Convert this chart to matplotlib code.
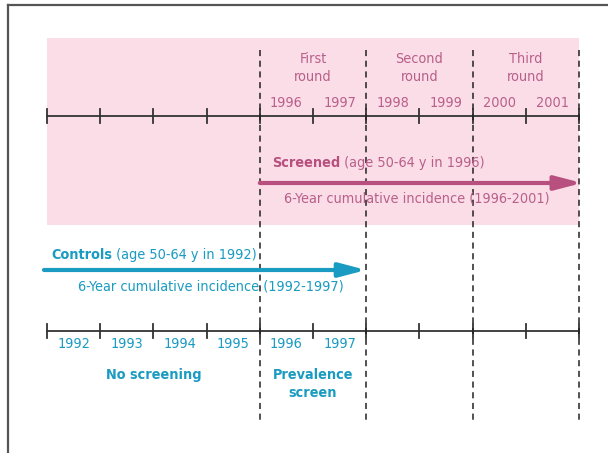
import matplotlib
matplotlib.use("Agg")
import matplotlib.pyplot as plt
from matplotlib import font_manager
from matplotlib.font_manager import FontProperties

# ---- data ----
years = [1992, 1993, 1994, 1995, 1996, 1997, 1998, 1999, 2000, 2001]
top_years = [1996, 1997, 1998, 1999, 2000, 2001]
bottom_years = [1992, 1993, 1994, 1995, 1996, 1997]
round_labels = ["First\nround", "Second\nround", "Third\nround"]
round_starts = [1996, 1998, 2000]
dashed_years = [1996, 1998, 2000, 2002]
screened_period = [1996, 2002]
control_period = [1992, 1998]
phase_labels = ["No screening", "Prevalence\nscreen"]
phase_spans = [[1992, 1996], [1996, 1998]]


def _w(f):
    if isinstance(f.weight, int):
        return f.weight
    return {"normal": 400, "regular": 400, "book": 400, "bold": 700}.get(str(f.weight), 400)


def _rank(f):
    n = (f.fname + " " + f.name)
    if "Semi" in n or "Extra" in n or "Ultra" in n:
        return 1
    return 0


cands = []
for f in font_manager.fontManager.ttflist:
    n = f.fname + " " + f.name
    if ("Condensed" in n or "Narrow" in n) and f.style == "normal":
        cands.append(f)
cands.sort(key=_rank)
reg_file = next((f.fname for f in cands if _w(f) == 400), None)
bold_file = next((f.fname for f in cands if _w(f) == 700 and
                  (reg_file is None or _rank(f) == 0)), None)
if reg_file:
    FP = FontProperties(fname=reg_file)
    FPB = FontProperties(fname=bold_file) if bold_file else FontProperties(fname=reg_file, weight="bold")
else:
    FP = FontProperties(family="Liberation Sans")
    FPB = FontProperties(family="Liberation Sans", weight="bold")

PINK_BG = "#fbdde8"
PINK = "#b8507f"
PINK_TXT = "#b9608a"
TEAL = "#1a9bc1"
AX = "#333333"

fig = plt.figure(figsize=(6.08, 4.53), dpi=100)
ax = fig.add_axes([0, 0, 1, 1])
pxy = 53.2
ax.set_xlim(1992 - 47 / pxy, 1992 + (608 - 47) / pxy)
ax.set_ylim(453, 0)
ax.axis("off")

# size the font so a year label is ~32 px wide, as in the reference
probe_fp = FP.copy(); probe_fp.set_size(10)
probe = ax.text(0, 0, "1996", fontproperties=probe_fp)
r = fig.canvas.get_renderer()
wpx = probe.get_window_extent(r).width
probe.remove()
fs = max(8.5, min(12.0, 10 * 32.5 / wpx))


def txt(x, y, s, color, bold=False, **kw):
    fp = (FPB if bold else FP).copy()
    fp.set_size(fs)
    return ax.text(x, y, s, color=color, fontproperties=fp, **kw)


# frame
ax.plot([1992 - 39 / pxy, 1992 - 39 / pxy], [5, 453], color="#555555", lw=1.6, clip_on=False)
ax.plot([1992 - 39 / pxy, 1992 + 561 / pxy], [5, 5], color="#555555", lw=1.6, clip_on=False)

# pink band
ax.fill_between([years[0], years[-1] + 1], 38, 225, color=PINK_BG, lw=0, zorder=0)

# dashed verticals
for d in dashed_years:
    ax.plot([d, d], [50, 421], color="#222222", lw=1.1, ls=(0, (4, 3)), zorder=3)


def timeline(y):
    ax.plot([years[0], years[-1] + 1], [y, y], color=AX, lw=1.3, zorder=2)
    for t in years + [years[-1] + 1]:
        ax.plot([t, t], [y - 7, y + 7], color=AX, lw=1.3, zorder=2)


timeline(116)
timeline(331)

for yr in top_years:
    txt(yr + 0.5, 103, str(yr), PINK_TXT, ha="center", va="center")
for lab, s in zip(round_labels, round_starts):
    txt(s + 1, 68, lab, PINK_TXT, ha="center", va="center", linespacing=1.3)
for yr in bottom_years:
    txt(yr + 0.5, 344, str(yr), TEAL, ha="center", va="center")
for lab, sp in zip(phase_labels, phase_spans):
    txt((sp[0] + sp[1]) / 2, 375 if "\n" not in lab else 384, lab, TEAL, bold=True,
        ha="center", va="center", linespacing=1.3)

astyle = "-|>,head_length=1.6,head_width=0.42"
fp = FP.copy(); fp.set_size(fs)
# screened arrow
ax.annotate("", xy=(screened_period[1] + 3 / pxy, 183), xytext=(screened_period[0], 183),
            arrowprops=dict(arrowstyle=astyle, color=PINK, lw=3.0, shrinkA=0, shrinkB=0), zorder=4)
t = txt(screened_period[0] + 12 / pxy, 163, "Screened", PINK, bold=True, ha="left", va="center")
ax.annotate(" (age 50-64 y in 1996)", xycoords=t, xy=(1, 0.5), va="center", ha="left",
            color=PINK_TXT, fontproperties=fp)
txt((screened_period[0] + screened_period[1]) / 2 - 3 / pxy, 198,
    "6-Year cumulative incidence (1996-2001)", PINK_TXT, ha="center", va="center")

# controls arrow
ax.annotate("", xy=(control_period[1], 270), xytext=(control_period[0] - 3 / pxy, 270),
            arrowprops=dict(arrowstyle=astyle, color=TEAL, lw=3.0, shrinkA=0, shrinkB=0), zorder=4)
t = txt(control_period[0] + 4 / pxy, 255, "Controls", TEAL, bold=True, ha="left", va="center")
ax.annotate(" (age 50-64 y in 1992)", xycoords=t, xy=(1, 0.5), va="center", ha="left",
            color=TEAL, fontproperties=fp)
txt((control_period[0] + control_period[1]) / 2 + 4 / pxy, 287,
    "6-Year cumulative incidence (1992-1997)", TEAL, ha="center", va="center")

fig.savefig("out.png", dpi=100)
